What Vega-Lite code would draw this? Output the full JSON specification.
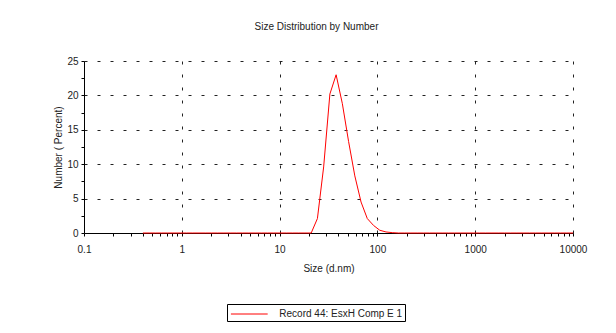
{
  "$schema": "https://vega.github.io/schema/vega-lite/v6.json",
  "autosize": {"type": "none"},
  "width": 489,
  "height": 172,
  "padding": {"left": 84, "top": 61, "right": 43, "bottom": 100},
  "background": "white",
  "config": {
    "view": {"stroke": null},
    "font": "Liberation Sans",
    "axis": {"labelFont": "Liberation Sans", "titleFont": "Liberation Sans", "labelColor": "#222", "titleColor": "#222", "titleFontWeight": "normal", "labelFontSize": 10, "titleFontSize": 10}
  },
  "title": {"text": "Size Distribution by Number", "fontSize": 10, "fontWeight": "normal", "font": "Liberation Sans", "color": "#222", "offset": 24, "dx": -12},
  "data": {"values": [
    {"size": 0.4, "pct": 0, "series": "Record 44: EsxH Comp E 1"},
    {"size": 0.4632, "pct": 0, "series": "Record 44: EsxH Comp E 1"},
    {"size": 0.5365, "pct": 0, "series": "Record 44: EsxH Comp E 1"},
    {"size": 0.6213, "pct": 0, "series": "Record 44: EsxH Comp E 1"},
    {"size": 0.7195, "pct": 0, "series": "Record 44: EsxH Comp E 1"},
    {"size": 0.8332, "pct": 0, "series": "Record 44: EsxH Comp E 1"},
    {"size": 0.9649, "pct": 0, "series": "Record 44: EsxH Comp E 1"},
    {"size": 1.117, "pct": 0, "series": "Record 44: EsxH Comp E 1"},
    {"size": 1.294, "pct": 0, "series": "Record 44: EsxH Comp E 1"},
    {"size": 1.499, "pct": 0, "series": "Record 44: EsxH Comp E 1"},
    {"size": 1.736, "pct": 0, "series": "Record 44: EsxH Comp E 1"},
    {"size": 2.01, "pct": 0, "series": "Record 44: EsxH Comp E 1"},
    {"size": 2.328, "pct": 0, "series": "Record 44: EsxH Comp E 1"},
    {"size": 2.696, "pct": 0, "series": "Record 44: EsxH Comp E 1"},
    {"size": 3.122, "pct": 0, "series": "Record 44: EsxH Comp E 1"},
    {"size": 3.615, "pct": 0, "series": "Record 44: EsxH Comp E 1"},
    {"size": 4.187, "pct": 0, "series": "Record 44: EsxH Comp E 1"},
    {"size": 4.849, "pct": 0, "series": "Record 44: EsxH Comp E 1"},
    {"size": 5.615, "pct": 0, "series": "Record 44: EsxH Comp E 1"},
    {"size": 6.503, "pct": 0, "series": "Record 44: EsxH Comp E 1"},
    {"size": 7.531, "pct": 0, "series": "Record 44: EsxH Comp E 1"},
    {"size": 8.721, "pct": 0, "series": "Record 44: EsxH Comp E 1"},
    {"size": 10.1, "pct": 0, "series": "Record 44: EsxH Comp E 1"},
    {"size": 11.7, "pct": 0, "series": "Record 44: EsxH Comp E 1"},
    {"size": 13.54, "pct": 0, "series": "Record 44: EsxH Comp E 1"},
    {"size": 15.69, "pct": 0, "series": "Record 44: EsxH Comp E 1"},
    {"size": 18.17, "pct": 0, "series": "Record 44: EsxH Comp E 1"},
    {"size": 21.04, "pct": 0, "series": "Record 44: EsxH Comp E 1"},
    {"size": 24.36, "pct": 2.1, "series": "Record 44: EsxH Comp E 1"},
    {"size": 28.21, "pct": 9.6, "series": "Record 44: EsxH Comp E 1"},
    {"size": 32.67, "pct": 20.2, "series": "Record 44: EsxH Comp E 1"},
    {"size": 37.84, "pct": 23.0, "series": "Record 44: EsxH Comp E 1"},
    {"size": 43.82, "pct": 18.8, "series": "Record 44: EsxH Comp E 1"},
    {"size": 50.75, "pct": 13.3, "series": "Record 44: EsxH Comp E 1"},
    {"size": 58.77, "pct": 8.3, "series": "Record 44: EsxH Comp E 1"},
    {"size": 68.06, "pct": 4.5, "series": "Record 44: EsxH Comp E 1"},
    {"size": 78.82, "pct": 2.1, "series": "Record 44: EsxH Comp E 1"},
    {"size": 91.28, "pct": 1.1, "series": "Record 44: EsxH Comp E 1"},
    {"size": 105.7, "pct": 0.4, "series": "Record 44: EsxH Comp E 1"},
    {"size": 122.4, "pct": 0.15, "series": "Record 44: EsxH Comp E 1"},
    {"size": 141.8, "pct": 0.05, "series": "Record 44: EsxH Comp E 1"},
    {"size": 164.2, "pct": 0, "series": "Record 44: EsxH Comp E 1"},
    {"size": 190.1, "pct": 0, "series": "Record 44: EsxH Comp E 1"},
    {"size": 220.2, "pct": 0, "series": "Record 44: EsxH Comp E 1"},
    {"size": 255.0, "pct": 0, "series": "Record 44: EsxH Comp E 1"},
    {"size": 295.3, "pct": 0, "series": "Record 44: EsxH Comp E 1"},
    {"size": 342.0, "pct": 0, "series": "Record 44: EsxH Comp E 1"},
    {"size": 396.1, "pct": 0, "series": "Record 44: EsxH Comp E 1"},
    {"size": 458.7, "pct": 0, "series": "Record 44: EsxH Comp E 1"},
    {"size": 531.2, "pct": 0, "series": "Record 44: EsxH Comp E 1"},
    {"size": 615.1, "pct": 0, "series": "Record 44: EsxH Comp E 1"},
    {"size": 712.4, "pct": 0, "series": "Record 44: EsxH Comp E 1"},
    {"size": 825.0, "pct": 0, "series": "Record 44: EsxH Comp E 1"},
    {"size": 955.4, "pct": 0, "series": "Record 44: EsxH Comp E 1"},
    {"size": 1106, "pct": 0, "series": "Record 44: EsxH Comp E 1"},
    {"size": 1281, "pct": 0, "series": "Record 44: EsxH Comp E 1"},
    {"size": 1484, "pct": 0, "series": "Record 44: EsxH Comp E 1"},
    {"size": 1718, "pct": 0, "series": "Record 44: EsxH Comp E 1"},
    {"size": 1990, "pct": 0, "series": "Record 44: EsxH Comp E 1"},
    {"size": 2305, "pct": 0, "series": "Record 44: EsxH Comp E 1"},
    {"size": 2669, "pct": 0, "series": "Record 44: EsxH Comp E 1"},
    {"size": 3091, "pct": 0, "series": "Record 44: EsxH Comp E 1"},
    {"size": 3580, "pct": 0, "series": "Record 44: EsxH Comp E 1"},
    {"size": 4145, "pct": 0, "series": "Record 44: EsxH Comp E 1"},
    {"size": 4801, "pct": 0, "series": "Record 44: EsxH Comp E 1"},
    {"size": 5560, "pct": 0, "series": "Record 44: EsxH Comp E 1"},
    {"size": 6439, "pct": 0, "series": "Record 44: EsxH Comp E 1"},
    {"size": 7456, "pct": 0, "series": "Record 44: EsxH Comp E 1"},
    {"size": 8635, "pct": 0, "series": "Record 44: EsxH Comp E 1"},
    {"size": 10000, "pct": 0, "series": "Record 44: EsxH Comp E 1"}
  ]},
  "mark": {"type": "line", "strokeWidth": 1, "interpolate": "linear"},
  "encoding": {
    "x": {
      "field": "size", "type": "quantitative",
      "scale": {"type": "log", "domain": [0.1, 10000], "nice": false},
      "axis": {
        "title": "Size (d.nm)", "titlePadding": 9,
        "values": [0.1,0.2,0.3,0.4,0.5,0.6,0.7,0.8,0.9,1,2,3,4,5,6,7,8,9,10,20,30,40,50,60,70,80,90,100,200,300,400,500,600,700,800,900,1000,2000,3000,4000,5000,6000,7000,8000,9000,10000],
        "format": "~g",
        "labelExpr": "indexof([0.1,1,10,100,1000,10000], datum.value) >= 0 ? datum.label : ''",
        "labelPadding": 8,
        "labelOverlap": false,
        "labelFlush": false,
        "domainColor": "#000", "tickColor": "#000", "tickSize": 3,
        "gridColor": "#222", "gridDash": [3, 10], "gridWidth": 1,
        "gridOpacity": {"condition": {"test": "indexof([1,10,100,1000,10000], datum.value) >= 0", "value": 1}, "value": 0}
      }
    },
    "y": {
      "field": "pct", "type": "quantitative",
      "scale": {"domain": [0, 25], "nice": false},
      "axis": {
        "title": "Number ( Percent)", "titlePadding": 3,
        "values": [0,2.5,5,7.5,10,12.5,15,17.5,20,22.5,25],
        "labelExpr": "datum.value % 5 === 0 ? datum.label : ''",
        "labelPadding": 3,
        "domainColor": "#000", "tickColor": "#000", "tickSize": 3,
        "gridColor": "#222", "gridDash": [3, 10], "gridWidth": 1,
        "gridOpacity": {"condition": {"test": "datum.value % 5 === 0 && datum.value > 0", "value": 1}, "value": 0}
      }
    },
    "color": {
      "field": "series", "type": "nominal",
      "scale": {"range": ["#ff0000"]},
      "legend": {
        "title": null, "orient": "none", "legendX": 143, "legendY": 243,
        "direction": "horizontal",
        "symbolType": "M-2.6,0H2.6", "symbolSize": 200, "symbolStrokeWidth": 1,
        "symbolOffset": 12.3,
        "labelFontSize": 10, "labelFont": "Liberation Sans", "labelColor": "#222",
        "strokeColor": "#000", "padding": 2, "labelOffset": 22
      }
    }
  }
}
